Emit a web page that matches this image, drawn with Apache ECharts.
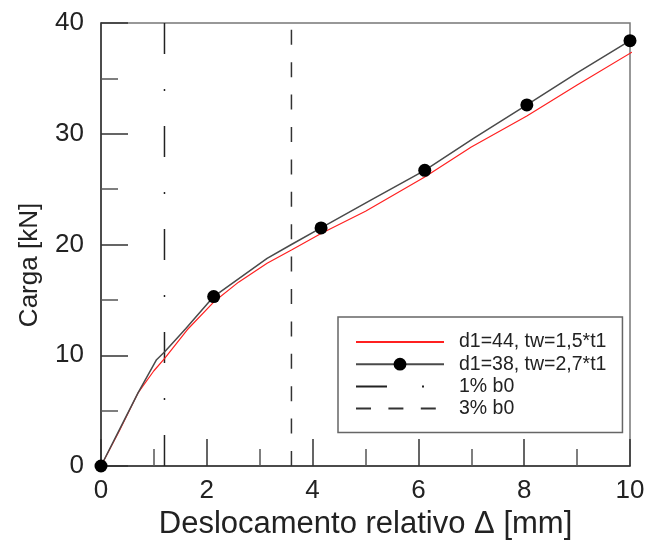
<!DOCTYPE html>
<html>
<head>
<meta charset="utf-8">
<script src="https://cdn.jsdelivr.net/npm/echarts@6/dist/echarts.min.js"></script>
<style>html,body{margin:0;padding:0;background:#fff}#c{width:647px;height:542px}</style>
</head>
<body>
<div id="c"></div>
<script>
// ---- data ----
const seriesNames = ['d1=44, tw=1,5*t1', 'd1=38, tw=2,7*t1', '1% b0', '3% b0'];
const redX = [0, 0.35, 0.7, 1.0, 1.2, 1.63, 2.13, 2.6, 3.14, 3.6, 4.16, 5.0, 6.12, 7.0, 8.05, 9.0, 10.1];
const redY = [0, 3.2, 6.6, 8.6, 9.7, 12.3, 14.8, 16.6, 18.3, 19.5, 21.0, 23.0, 26.1, 28.8, 31.6, 34.4, 37.55];
const blackX = [0, 0.7, 1.05, 1.2, 1.6, 2.13, 3.14, 3.6, 4.16, 5.1, 6.12, 7.05, 8.05, 9.0, 10.0];
const blackY = [0, 6.6, 9.6, 10.3, 12.4, 15.3, 18.75, 20.0, 21.5, 24.0, 26.7, 29.6, 32.6, 35.5, 38.4];
const markerX = [0, 2.13, 4.16, 6.12, 8.05, 10.0];
const markerY = [0, 15.3, 21.5, 26.7, 32.6, 38.4];
const limitX = [1.2, 3.6];        // 1% b0, 3% b0
const xRange = [0, 10];
const yRange = [0, 40];

const zip = (a, b) => a.map((v, i) => [v, b[i]]);
const vline = x => [[x, yRange[0]], [x, yRange[1]]];

const FONT = 'Liberation Sans';
const chart = echarts.init(document.getElementById('c'), null, {renderer: 'canvas'});
chart.setOption({
  animation: false,
  grid: {left: 101, right: 17, top: 23, bottom: 76, containLabel: false, outerBoundsMode: 'none',
         show: true, borderColor: '#777', borderWidth: 1.5},
  xAxis: {
    type: 'value', min: xRange[0], max: xRange[1], interval: 2,
    name: 'Deslocamento relativo Δ [mm]', nameLocation: 'middle', nameGap: 41,
    nameTextStyle: {fontFamily: FONT, fontSize: 31, color: '#222'},
    axisLine: {onZero: false, lineStyle: {color: '#333', width: 1.5}},
    axisTick: {inside: true, length: 27, lineStyle: {color: '#333', width: 1.5}},
    minorTick: {show: true, splitNumber: 2, length: 17, lineStyle: {color: '#555', width: 1.5}},
    splitLine: {show: false},
    axisLabel: {fontFamily: FONT, fontSize: 26, color: '#222', margin: 12}
  },
  yAxis: {
    type: 'value', min: yRange[0], max: yRange[1], interval: 10,
    name: 'Carga [kN]', nameLocation: 'middle', nameGap: 58,
    nameTextStyle: {fontFamily: FONT, fontSize: 26, color: '#222', padding: [0, 41, 0, 0]},
    axisLine: {onZero: false, lineStyle: {color: '#333', width: 1.5}},
    axisTick: {inside: true, length: 27, lineStyle: {color: '#333', width: 1.5}},
    minorTick: {show: true, splitNumber: 2, length: 17, lineStyle: {color: '#555', width: 1.5}},
    splitLine: {show: false},
    axisLabel: {fontFamily: FONT, fontSize: 26, color: '#222', margin: 17}
  },
  legend: {
    orient: 'vertical', left: 338, top: 317,
    padding: [15, 16, 14, 17],
    itemWidth: 88, itemHeight: 16, itemGap: 2.2,
    borderColor: '#666', borderWidth: 1.5,
    textStyle: {fontFamily: FONT, fontSize: 19.5, color: '#222', padding: [0, 0, 0, 10]},
    data: [
      {name: seriesNames[0], itemStyle: {opacity: 0}},
      {name: seriesNames[1]},
      {name: seriesNames[2], itemStyle: {opacity: 0}},
      {name: seriesNames[3], itemStyle: {opacity: 0}}
    ]
  },
  series: [
    {
      name: seriesNames[0], type: 'line', data: zip(redX, redY),
      symbol: 'none', clip: false, z: 3,
      lineStyle: {color: '#ff2020', width: 1.2}, itemStyle: {color: '#ff2020'}
    },
    {
      name: seriesNames[1], type: 'line', data: zip(blackX, blackY),
      symbol: 'circle', symbolSize: 13, showSymbol: false, clip: false, z: 4,
      lineStyle: {color: '#4a4a4a', width: 1.5}, itemStyle: {color: '#000'}
    },
    {
      name: seriesNames[1], type: 'scatter', data: zip(markerX, markerY),
      symbol: 'circle', symbolSize: 13, clip: false, z: 5,
      itemStyle: {color: '#000', opacity: 1}
    },
    {
      name: seriesNames[2], type: 'line', data: vline(limitX[0]),
      symbol: 'none', z: 2,
      lineStyle: {color: '#222', width: 1.5, type: [31, 35, 2, 35]}, itemStyle: {color: '#333'}
    },
    {
      name: seriesNames[3], type: 'line', data: vline(limitX[1]),
      symbol: 'none', z: 2,
      lineStyle: {color: '#333', width: 1.5, type: [15, 17.4]}, itemStyle: {color: '#333'}
    }
  ]
});
</script>
</body>
</html>
